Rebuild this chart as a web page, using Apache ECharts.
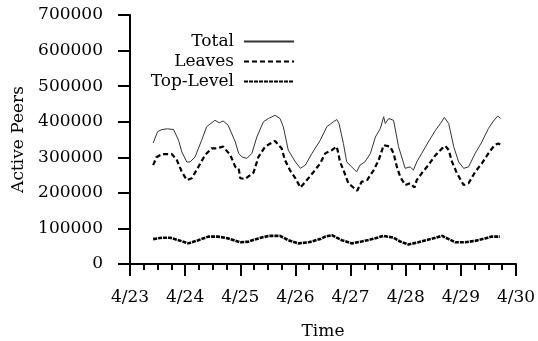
<!DOCTYPE html>
<html>
<head>
<meta charset="utf-8">
<script src="https://cdn.jsdelivr.net/npm/echarts@6/dist/echarts.min.js"></script>
<style>html,body{margin:0;padding:0;background:#fff;}#c{width:538px;height:341px;}</style>
</head>
<body>
<div id="c"></div>
<script>
// days since 4/23 00:00
const xTickLabels = ['4/23','4/24','4/25','4/26','4/27','4/28','4/29','4/30'];
const yTickLabels = ['0','100000','200000','300000','400000','500000','600000','700000'];
const seriesNames = ['Total','Leaves','Top-Level'];

const totalX = [0.42,0.50,0.58,0.68,0.79,0.88,0.94,1.03,1.09,1.18,1.30,1.39,1.54,1.62,1.69,1.78,1.91,1.97,2.03,2.12,2.21,2.30,2.42,2.51,2.63,2.72,2.78,2.87,3.00,3.09,3.18,3.30,3.45,3.57,3.63,3.69,3.75,3.79,3.87,3.93,4.02,4.11,4.17,4.26,4.36,4.45,4.54,4.60,4.63,4.69,4.78,4.87,4.99,5.08,5.14,5.20,5.29,5.41,5.54,5.63,5.70,5.78,5.87,5.96,6.05,6.14,6.26,6.38,6.50,6.59,6.67,6.72];
const totalY = [340000,372000,378000,380000,378000,348000,315000,287000,287000,301000,348000,386000,404000,397000,402000,390000,343000,311000,301000,297000,311000,357000,400000,409000,418000,409000,386000,320000,287000,269000,278000,311000,348000,386000,393000,400000,406000,395000,339000,287000,273000,259000,278000,287000,311000,357000,381000,414000,395000,409000,404000,330000,269000,273000,264000,287000,311000,343000,376000,395000,412000,395000,330000,287000,269000,273000,311000,343000,381000,402000,416000,409000];

const leavesX = [0.42,0.48,0.58,0.76,0.85,0.94,1.03,1.12,1.24,1.36,1.48,1.57,1.69,1.82,1.91,1.97,2.00,2.09,2.24,2.33,2.45,2.63,2.75,2.81,2.90,3.00,3.09,3.18,3.33,3.45,3.54,3.66,3.75,3.81,3.87,3.96,4.05,4.12,4.20,4.30,4.42,4.51,4.60,4.72,4.78,4.84,4.90,4.99,5.08,5.16,5.20,5.29,5.41,5.54,5.66,5.72,5.78,5.84,5.93,6.05,6.14,6.26,6.38,6.50,6.61,6.68,6.72];
const leavesY = [278000,300000,309000,309000,292000,259000,236000,241000,273000,306000,325000,325000,330000,306000,273000,269000,241000,239000,257000,301000,330000,346000,325000,292000,264000,241000,215000,231000,259000,283000,311000,320000,330000,287000,264000,227000,215000,206000,231000,236000,264000,292000,334000,330000,311000,273000,245000,222000,227000,215000,236000,255000,278000,306000,325000,332000,320000,287000,255000,222000,227000,259000,283000,311000,334000,339000,335000];

const topX = [0.42,0.58,0.73,0.88,1.06,1.24,1.42,1.60,1.78,2.00,2.15,2.33,2.51,2.72,2.87,3.05,3.24,3.45,3.54,3.66,3.84,4.02,4.20,4.39,4.60,4.78,4.90,5.05,5.23,5.45,5.66,5.78,5.90,6.08,6.26,6.44,6.56,6.71];
const topY = [70000,74000,74000,67000,58000,67000,77000,77000,72000,61000,63000,72000,79000,79000,67000,58000,61000,70000,77000,81000,67000,58000,63000,70000,79000,74000,63000,55000,61000,70000,79000,70000,61000,61000,65000,72000,77000,77000];

function pairs(xs, ys){ return xs.map((x,i)=>[x, ys[i]]); }

const FONT = 'DejaVu Serif';
const FS = 17;
const chart = echarts.init(document.getElementById('c'), null, {renderer:'canvas'});
chart.setOption({
  animation:false,
  backgroundColor:'#fff',
  textStyle:{fontFamily:FONT, color:'#000'},
  grid:{left:130, right:22, top:15, bottom:77, containLabel:false, outerBoundsMode:'none'},
  legend:{
    orient:'vertical', align:'right', right:243, top:32, padding:0,
    itemWidth:50, itemHeight:14, itemGap:1,
    itemStyle:{opacity:0},
    textStyle:{fontFamily:FONT, fontSize:FS, color:'#000', lineHeight:19, padding:[0,5,0,0]},
    data:seriesNames
  },
  xAxis:{
    type:'value', min:0, max:7, interval:1,
    name:'Time', nameLocation:'middle', nameGap:59,
    nameTextStyle:{fontFamily:FONT, fontSize:FS, color:'#000'},
    axisLine:{show:true, lineStyle:{color:'#000', width:2}},
    axisTick:{show:true, length:12, lineStyle:{color:'#000', width:2}},
    minorTick:{show:true, splitNumber:4, length:6, lineStyle:{color:'#000', width:2}},
    splitLine:{show:false},
    axisLabel:{margin:25, fontFamily:FONT, fontSize:FS, color:'#000',
      formatter:v=>xTickLabels[Math.round(v)]}
  },
  yAxis:{
    type:'value', min:0, max:700000, interval:100000,
    name:'Active Peers', nameLocation:'middle', nameGap:100, nameRotate:90,
    nameTextStyle:{fontFamily:FONT, fontSize:FS, color:'#000'},
    axisLine:{show:true, lineStyle:{color:'#000', width:2}},
    axisTick:{show:true, length:12, lineStyle:{color:'#000', width:2}},
    splitLine:{show:false},
    axisLabel:{margin:27, fontFamily:FONT, fontSize:FS, color:'#000',
      formatter:v=>yTickLabels[Math.round(v/100000)]}
  },
  series:[
    {name:seriesNames[0], type:'line', symbol:'none', data:pairs(totalX,totalY),
     lineStyle:{color:'#333', width:1, type:'solid'}, itemStyle:{color:'#333'}},
    {name:seriesNames[1], type:'line', symbol:'none', data:pairs(leavesX,leavesY),
     lineStyle:{color:'#000', width:2.2, type:[5,3]}, itemStyle:{color:'#000'}},
    {name:seriesNames[2], type:'line', symbol:'none', data:pairs(topX,topY),
     lineStyle:{color:'#000', width:2.6, type:[4,1]}, itemStyle:{color:'#000'}}
  ]
});
</script>
</body>
</html>
